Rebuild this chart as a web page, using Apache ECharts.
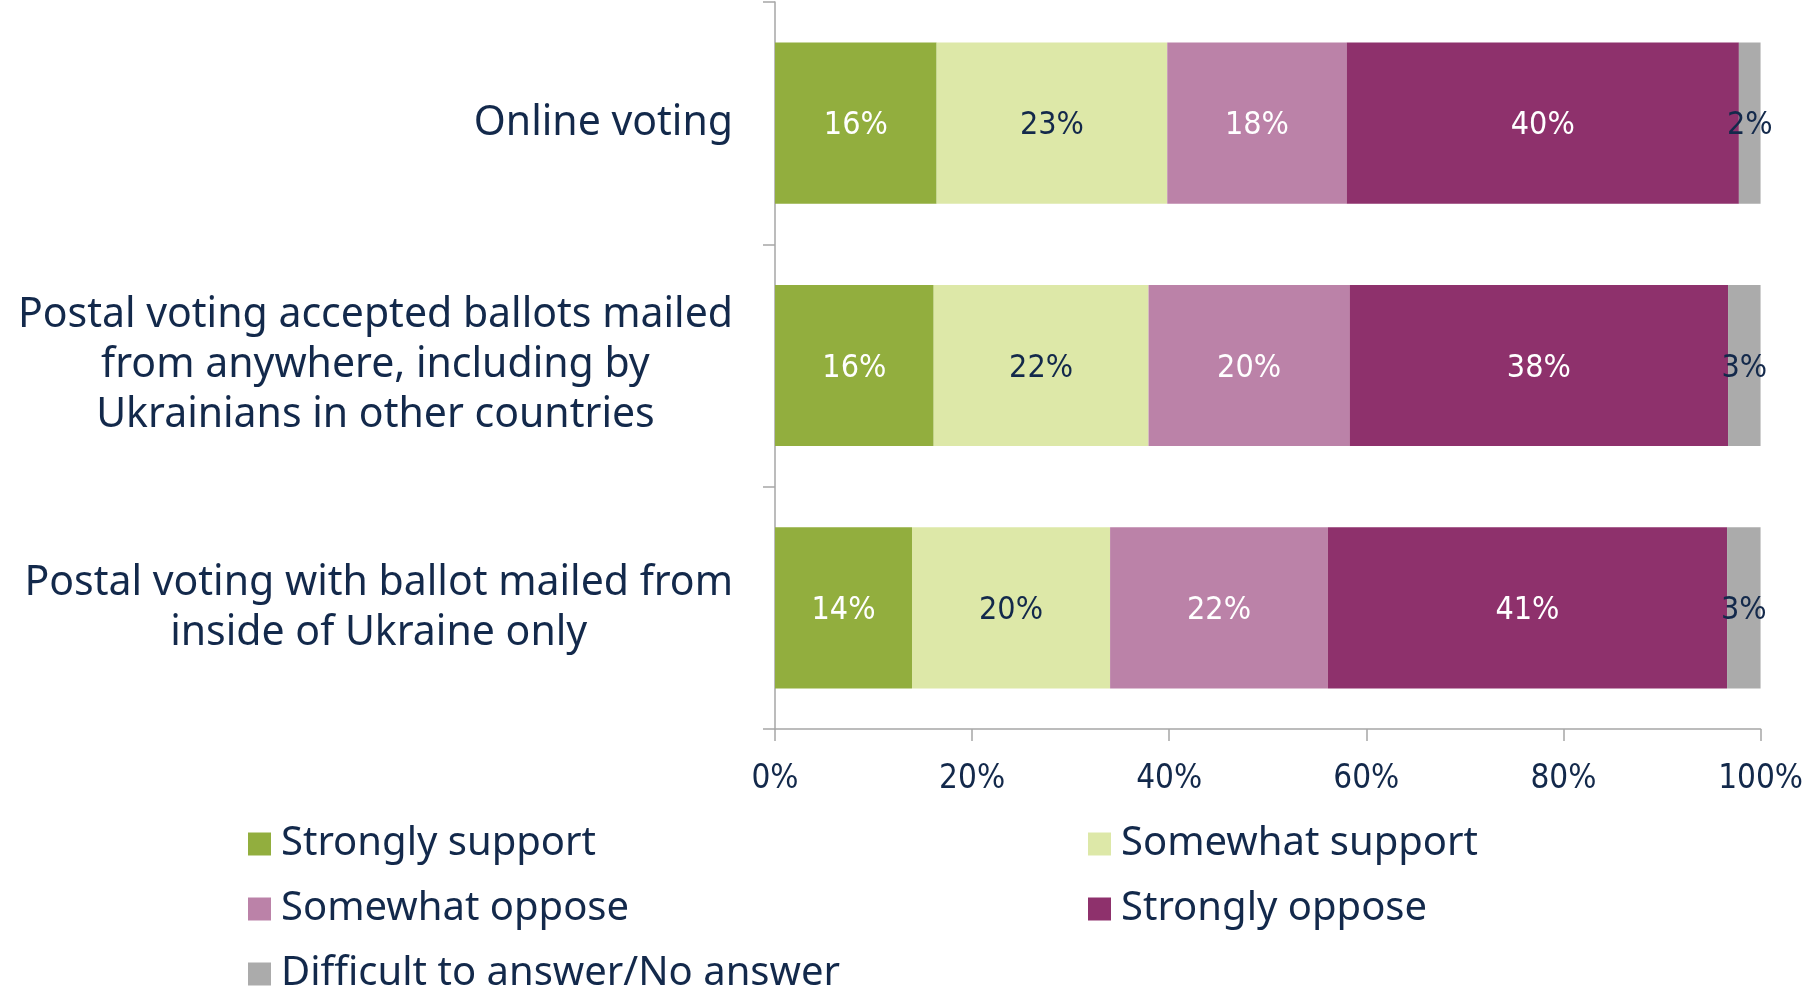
<!DOCTYPE html>
<html>
<head>
<meta charset="utf-8">
<script src="https://cdn.jsdelivr.net/npm/echarts@6/dist/echarts.min.js"></script>
<style>
html,body{margin:0;padding:0;background:#fff;}
#chart{width:1806px;height:995px;}
</style>
</head>
<body>
<div id="chart"></div>
<script>
// ---- data ----
const categories = [
  'Online voting',
  'Postal voting accepted ballots mailed\nfrom anywhere, including by\nUkrainians in other countries',
  'Postal voting with ballot mailed from\ninside of Ukraine only'
];
const seriesNames = ['Strongly support', 'Somewhat support', 'Somewhat oppose', 'Strongly oppose', 'Difficult to answer/No answer'];
const stronglySupport = [16.4, 16.1, 13.9];
const somewhatSupport = [23.4, 21.8, 20.1];
const somewhatOppose  = [18.2, 20.4, 22.1];
const stronglyOppose  = [39.8, 38.4, 40.5];
const difficult       = [2.2, 3.3, 3.4];
const xTickValues = [0, 20, 40, 60, 80, 100];

// ---- style ----
const colors = ['#92AE3E', '#DDE8A8', '#BB82A8', '#8E316C', '#ABABAB'];
const labelColors = ['#ffffff', '#13294B', '#ffffff', '#ffffff', '#13294B'];
const navy = '#13294B';
const mainFont = "'Noto Sans', 'Open Sans', sans-serif";
const condFont = "'Liberation Sans Narrow', 'DejaVu Sans Condensed', 'Roboto Condensed', 'Noto Sans', sans-serif";

const values = [stronglySupport, somewhatSupport, somewhatOppose, stronglyOppose, difficult];

// legend placement: [left, top] for each series entry
const legendPos = [[248, 824], [1088, 824], [248, 889], [1088, 889], [248, 954]];

const chart = echarts.init(document.getElementById('chart'), null, {renderer: 'canvas'});

const series = seriesNames.map((name, i) => ({
  name: name,
  type: 'bar',
  stack: 'total',
  barCategoryGap: '33.5%',
  data: values[i],
  itemStyle: {color: colors[i]},
  label: {
    show: true,
    position: 'inside',
    offset: [0, 3],
    formatter: p => Math.round(p.value) + '%',
    color: labelColors[i],
    fontFamily: condFont,
    fontSize: 32,
    textBorderWidth: 0
  },
  emphasis: {disabled: true}
}));

const legendText = {color: navy, fontFamily: mainFont, fontSize: 40, lineHeight: 40, padding: [0, 0, 0, 5]};

const legends = seriesNames.map((name, i) => ({
  data: [name],
  orient: 'horizontal',
  left: legendPos[i][0],
  top: legendPos[i][1],
  padding: 0,
  icon: 'rect',
  itemWidth: 23,
  itemHeight: 23,
  selectedMode: false,
  textStyle: legendText
}));

const option = {
  animation: false,
  backgroundColor: '#ffffff',
  grid: {left: 775, right: 45, top: 2, bottom: 266, containLabel: false},
  xAxis: {
    type: 'value',
    min: xTickValues[0],
    max: xTickValues[xTickValues.length - 1],
    interval: xTickValues[1] - xTickValues[0],
    axisLine: {show: true, lineStyle: {color: '#A6A6A6', width: 1.5}},
    axisTick: {show: true, length: 12, lineStyle: {color: '#A6A6A6', width: 1.5}},
    splitLine: {show: false},
    axisLabel: {
      formatter: '{value}%',
      color: navy,
      fontFamily: condFont,
      fontSize: 33,
      margin: 34
    }
  },
  yAxis: {
    type: 'category',
    inverse: true,
    data: categories,
    axisLine: {show: true, lineStyle: {color: '#A6A6A6', width: 1.5}},
    axisTick: {show: true, length: 12, lineStyle: {color: '#A6A6A6', width: 1.5}},
    axisLabel: {
      align: 'right',
      margin: 42,
      color: navy,
      fontFamily: mainFont,
      fontSize: 41,
      lineHeight: 50,
      formatter: v => v.split('\n').map(l => '{c|' + l + '}').join('\n'),
      rich: {
        c: {align: 'center', color: navy, fontFamily: mainFont, fontSize: 41, lineHeight: 50}
      }
    }
  },
  legend: legends,
  series: series
};
chart.setOption(option);
</script>
</body>
</html>
